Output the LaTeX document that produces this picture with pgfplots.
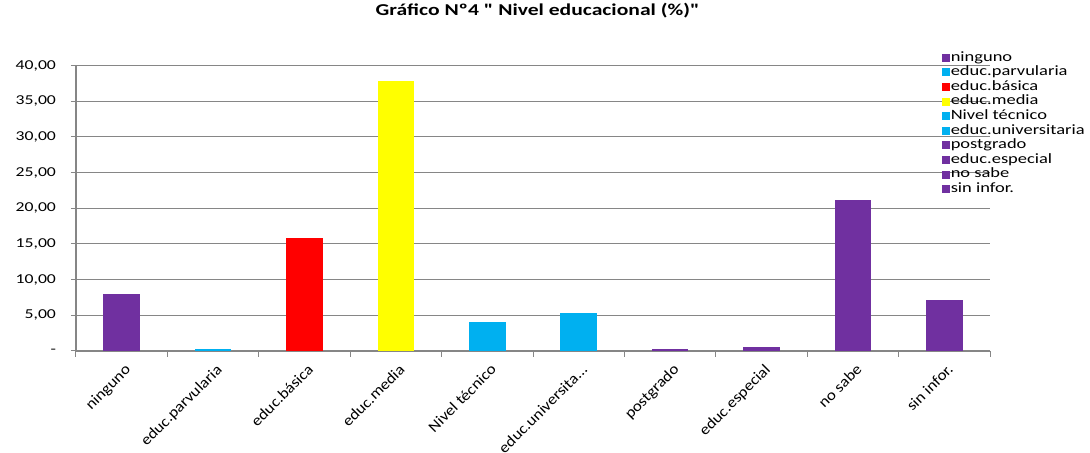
\documentclass[border=0pt]{standalone}
\usepackage{pgfplots}
\pgfplotsset{compat=1.18}
\usepackage{fontspec}
\setmainfont{Carlito}[FakeStretch=1.3, Ligatures=TeXOff]
\newfontfamily\labfont{Carlito}[FakeStretch=1.12, Ligatures=TeXOff]
\definecolor{cpur}{HTML}{7030A0}
\definecolor{ccya}{HTML}{00B0F0}
\definecolor{cred}{HTML}{FF0000}
\definecolor{cyel}{HTML}{FFFF00}
\definecolor{cgrid}{HTML}{868686}
\begin{document}
\begin{tikzpicture}
\begin{axis}[
  scale only axis, width=457pt, height=142.7pt,
  xmin=-0.5, xmax=9.5, ymin=0, ymax=40,
  ybar, bar width=0.4, bar shift=0pt,
  axis x line*=bottom, axis y line*=left,
  axis line style={draw=cgrid, line width=0.6pt, -},
  ymajorgrids, grid style={draw=cgrid, line width=0.5pt},
  ytick={0,5,...,40},
  yticklabels={{-\hspace{1pt}},{5,00},{10,00},{15,00},{20,00},{25,00},{30,00},{35,00},{40,00}},
  xtick={0,...,9},
  xticklabels={ninguno,educ.parvularia,educ.básica,educ.media,Nivel técnico,{educ.universita.\kern0pt.\kern0pt.},postgrado,educ.especial,no sabe,sin infor.},
  major x tick style={draw=none},
  minor xtick={-0.5,0.5,...,9.5},
  minor tick length=3pt,
  major tick length=2.5pt,
  tick align=outside,
  tick style={draw=cgrid, line width=0.5pt},
  yticklabel style={font=\fontsize{6.8}{8}\selectfont, xshift=-4pt},
  xticklabel style={font=\labfont\fontsize{7.6}{9}\selectfont, rotate=45, anchor=north east, inner sep=0.5pt, yshift=-2.6pt, xshift=-1pt},
  title={Gráfico Nº4 " Nivel educacional (\%)"},
  title style={font=\bfseries\fontsize{8.3}{10}\selectfont, at={(rel axis cs:0.505,1)}, anchor=base, yshift=19.3pt},
  legend cell align=left,
  legend image code/.code={\fill[#1] (0pt,-2pt) rectangle (4pt,2pt);},
  legend style={at={(rel axis cs:0.947,1.053)}, anchor=north west, draw=none, fill=none,
    inner sep=0pt, outer sep=0pt, row sep=0pt,
    font=\fontsize{7.1}{7}\selectfont,
    nodes={inner sep=0.6pt, text height=4.7pt, text depth=1.4pt}},
]
\addplot[fill=cpur, draw=none] coordinates {(0,8.05)};
\addplot[fill=ccya, draw=none] coordinates {(1,0.3)};
\addplot[fill=cred, draw=none] coordinates {(2,15.9)};
\addplot[fill=cyel, draw=none] coordinates {(3,37.9)};
\addplot[fill=ccya, draw=none] coordinates {(4,4.05)};
\addplot[fill=ccya, draw=none] coordinates {(5,5.3)};
\addplot[fill=cpur, draw=none] coordinates {(6,0.3)};
\addplot[fill=cpur, draw=none] coordinates {(7,0.5)};
\addplot[fill=cpur, draw=none] coordinates {(8,21.2)};
\addplot[fill=cpur, draw=none] coordinates {(9,7.15)};
\legend{ninguno,educ.parvularia,educ.básica,educ.media,Nivel técnico,educ.universitaria,postgrado,educ.especial,no sabe,sin infor.}
\end{axis}
\pgfresetboundingbox
\path[use as bounding box] (-38pt,-51pt) rectangle (507pt,175.5pt);
\end{tikzpicture}
\end{document}
